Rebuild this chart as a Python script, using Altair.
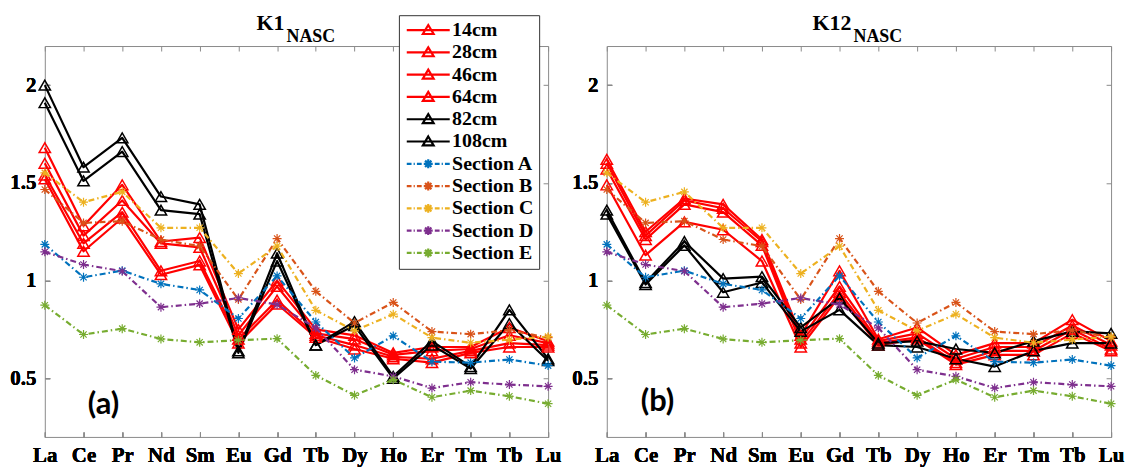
import altair as alt
import pandas as pd

# ---------------- data ----------------
elements = ["La", "Ce", "Pr", "Nd", "Sm", "Eu", "Gd", "Tb", "Dy", "Ho", "Er", "Tm", "Tb", "Lu"]

depth_names = ["14cm", "28cm", "46cm", "64cm", "82cm", "108cm"]
section_names = ["Section A", "Section B", "Section C", "Section D", "Section E"]

# panel (a) K1
k1_14cm = [1.68, 1.28, 1.49, 1.20, 1.22, 0.75, 1.00, 0.75, 0.72, 0.63, 0.66, 0.66, 0.76, 0.69]
k1_28cm = [1.60, 1.23, 1.41, 1.19, 1.17, 0.72, 0.97, 0.73, 0.70, 0.62, 0.64, 0.65, 0.72, 0.68]
k1_46cm = [1.54, 1.19, 1.35, 1.05, 1.10, 0.70, 0.90, 0.72, 0.67, 0.61, 0.60, 0.64, 0.68, 0.67]
k1_64cm = [1.52, 1.15, 1.32, 1.03, 1.08, 0.68, 0.88, 0.71, 0.65, 0.60, 0.58, 0.63, 0.66, 0.66]
k1_82cm = [2.00, 1.58, 1.73, 1.43, 1.39, 0.64, 1.14, 0.67, 0.79, 0.51, 0.69, 0.56, 0.85, 0.60]
k1_108cm = [1.91, 1.51, 1.66, 1.36, 1.34, 0.63, 1.10, 0.67, 0.77, 0.50, 0.67, 0.55, 0.78, 0.59]

# panel (b) K12
k12_14cm = [1.62, 1.25, 1.42, 1.39, 1.21, 0.72, 1.05, 0.70, 0.76, 0.62, 0.68, 0.68, 0.80, 0.69]
k12_28cm = [1.60, 1.23, 1.41, 1.37, 1.20, 0.70, 0.97, 0.69, 0.73, 0.60, 0.66, 0.66, 0.77, 0.67]
k12_46cm = [1.57, 1.21, 1.39, 1.35, 1.18, 0.68, 0.94, 0.68, 0.71, 0.58, 0.64, 0.64, 0.75, 0.65]
k12_64cm = [1.49, 1.13, 1.30, 1.26, 1.10, 0.66, 0.92, 0.67, 0.70, 0.57, 0.62, 0.62, 0.73, 0.64]
k12_82cm = [1.36, 0.99, 1.20, 1.01, 1.02, 0.76, 0.91, 0.68, 0.69, 0.65, 0.63, 0.69, 0.74, 0.73]
k12_108cm = [1.34, 0.98, 1.18, 0.94, 0.99, 0.74, 0.85, 0.67, 0.66, 0.60, 0.56, 0.64, 0.68, 0.68]

# reference sections (same in both panels)
section_a = [1.185, 1.017, 1.051, 0.983, 0.952, 0.806, 1.024, 0.788, 0.604, 0.717, 0.585, 0.580, 0.596, 0.565]
section_b = [1.466, 1.295, 1.304, 1.210, 1.176, 0.903, 1.215, 0.945, 0.783, 0.888, 0.739, 0.726, 0.746, 0.708]
section_c = [1.551, 1.401, 1.454, 1.270, 1.270, 1.036, 1.176, 0.848, 0.743, 0.828, 0.708, 0.682, 0.698, 0.713]
section_d = [1.147, 1.082, 1.048, 0.864, 0.882, 0.911, 0.877, 0.758, 0.544, 0.510, 0.450, 0.480, 0.468, 0.459]
section_e = [0.874, 0.724, 0.754, 0.701, 0.684, 0.695, 0.703, 0.515, 0.413, 0.493, 0.403, 0.437, 0.408, 0.370]

y_ticks = [0.5, 1, 1.5, 2]

# ---------------- styles ----------------
series_names = depth_names + section_names
series_colors = ["#ff0000"] * 4 + ["#000000"] * 2 + ["#0072BD", "#D95319", "#EDB120", "#7E2F8E", "#77AC30"]
series_widths = [2.2] * 6 + [1.2] * 5
series_dashes = [[1, 0]] * 6 + [[6, 3, 1.5, 3]] * 5

tri_legend = "M-3.6,0L3.6,0M0,-0.85L0.9,0.65L-0.9,0.65Z"
ast = "M0,-0.75L0,0.75M-0.75,0L0.75,0M-0.53,-0.53L0.53,0.53M-0.53,0.53L0.53,-0.53"
sec_legend = ("M-3.6,0L-2.8,0M-2.45,0L-2.25,0M-1.9,0L-1.1,0"
              "M1.1,0L1.9,0M2.25,0L2.45,0M2.8,0L3.6,0" + ast)
legend_paths = [tri_legend] * 6 + [sec_legend] * 5
asterisk_marker = "M0,-1L0,1M-1,0L1,0M-0.7,-0.7L0.7,0.7M-0.7,0.7L0.7,-0.7"


def long_df(series_lists):
    rows = []
    for name, vals in zip(series_names, series_lists):
        for i, v in enumerate(vals):
            rows.append({"series": name, "idx": i, "value": v})
    return pd.DataFrame(rows)


secs = [section_a, section_b, section_c, section_d, section_e]
df_k1 = long_df([k1_14cm, k1_28cm, k1_46cm, k1_64cm, k1_82cm, k1_108cm] + secs)
df_k12 = long_df([k12_14cm, k12_28cm, k12_46cm, k12_64cm, k12_82cm, k12_108cm] + secs)

color_scale = alt.Scale(domain=series_names, range=series_colors)
width_scale = alt.Scale(domain=series_names, range=series_widths)
dash_scale = alt.Scale(domain=series_names, range=series_dashes)
shape_scale = alt.Scale(domain=series_names, range=legend_paths)
x_scale = alt.Scale(domain=[0, 13], nice=False, zero=False)
y_scale = alt.Scale(domain=[0.2, 2.2], nice=False, zero=False)

label_expr = "[" + ",".join("'%s'" % e for e in elements) + "][datum.value]"
common_axis = dict(tickSize=5, offset=-5, domain=False, grid=False, title=None,
                   tickColor="#8a8a8a", labelFont="Liberation Serif", labelFontSize=21,
                   labelFontWeight="bold", labelColor="black", labelFlush=False)
x_bottom = alt.Axis(orient="bottom", values=list(range(14)), labelExpr=label_expr,
                    labelPadding=8, labelOverlap=False, **common_axis)
x_top = alt.Axis(orient="top", values=list(range(14)), labels=False, **common_axis)
y_left = alt.Axis(orient="left", values=y_ticks, labelExpr="'' + datum.value",
                  labelPadding=9, **common_axis)
y_right = alt.Axis(orient="right", values=y_ticks, labels=False, **common_axis)

legend = alt.Legend(orient="none", legendX=356, legendY=-31, title=None,
                    fillColor="white", strokeColor="#333333", padding=5,
                    labelFont="Liberation Serif", labelFontSize=20, labelFontWeight="bold",
                    labelColor="black", symbolSize=144, symbolOffset=14.5, labelOffset=14,
                    rowPadding=2.4)


def panel(df, main, sub, tag, title_x, tag_x, tag_y, with_legend):
    X = alt.X("idx:Q", scale=x_scale, axis=x_bottom)
    Y = alt.Y("value:Q", scale=y_scale, axis=y_left)
    base = alt.Chart(df)
    depth = base.transform_filter(alt.FieldOneOfPredicate(field="series", oneOf=depth_names))
    sect = base.transform_filter(alt.FieldOneOfPredicate(field="series", oneOf=section_names))
    col = alt.Color("series:N", scale=color_scale, legend=None)
    sw = alt.StrokeWidth("series:N", scale=width_scale, legend=None)

    layers = [
        depth.mark_line(strokeJoin="round").encode(x=X, y=Y, color=col, strokeWidth=sw,
                                                   order=alt.Order("idx:Q")),
        depth.mark_point(shape="triangle-up", filled=False, size=130, strokeWidth=1.5,
                         opacity=1).encode(x=X, y=Y, color=col),
        sect.mark_line().encode(x=X, y=Y, color=col, strokeWidth=sw,
                                strokeDash=alt.StrokeDash("series:N", scale=dash_scale, legend=None),
                                order=alt.Order("idx:Q")),
        sect.mark_point(shape=asterisk_marker, filled=False, size=81, strokeWidth=1.2,
                        opacity=1).encode(x=X, y=Y, color=col),
    ]
    Xt = alt.X("idx:Q", scale=x_scale, axis=x_top)
    Yr = alt.Y("value:Q", scale=y_scale, axis=y_right)
    if with_legend:
        layers.append(
            base.transform_filter("false").mark_point(filled=False, opacity=1).encode(
                x=Xt, y=Yr,
                color=alt.Color("series:N", scale=color_scale, legend=legend),
                shape=alt.Shape("series:N", scale=shape_scale, legend=legend),
                strokeWidth=alt.StrokeWidth("series:N", scale=width_scale, legend=legend),
            ))
    else:
        layers.append(base.transform_filter("false").mark_point(opacity=0).encode(x=Xt, y=Yr))

    one = alt.Data(values=[{}])
    layers += [
        alt.Chart(one).mark_text(text=main, align="right", baseline="alphabetic",
                                 font="Liberation Serif", fontSize=22, fontWeight="bold",
                                 color="black").encode(x=alt.value(title_x), y=alt.value(-16)),
        alt.Chart(one).mark_text(text=sub, align="left", baseline="alphabetic",
                                 font="Liberation Serif", fontSize=18, fontWeight="bold",
                                 color="black").encode(x=alt.value(title_x + 2), y=alt.value(-4)),
        alt.Chart(one).mark_text(text=tag, align="center", baseline="middle",
                                 font="Lato", fontSize=31, fontWeight="bold",
                                 color="black").encode(x=alt.value(tag_x), y=alt.value(tag_y)),
    ]
    return alt.layer(*layers).resolve_legend(
        color="independent", shape="independent", strokeWidth="independent",
        strokeDash="independent")


left = panel(df_k1, "K1", "NASC", "(a)", 241, 59, 361, True).properties(width=506, height=393)
right = panel(df_k12, "K12", "NASC", "(b)", 246, 51, 358, False).properties(width=507, height=393)

chart = alt.hconcat(left, right, spacing=9).resolve_scale(
    color="independent", shape="independent", strokeWidth="independent", strokeDash="independent"
).properties(
    padding={"left": 1, "top": 2, "right": 0, "bottom": 0}
).configure_view(stroke="#8a8a8a", strokeWidth=1).configure_legend(
    labelFont="Liberation Serif", labelFontSize=20, labelFontWeight="bold", labelColor="black"
)

chart.save("out.html", embed_options={"renderer": "svg", "actions": False})
